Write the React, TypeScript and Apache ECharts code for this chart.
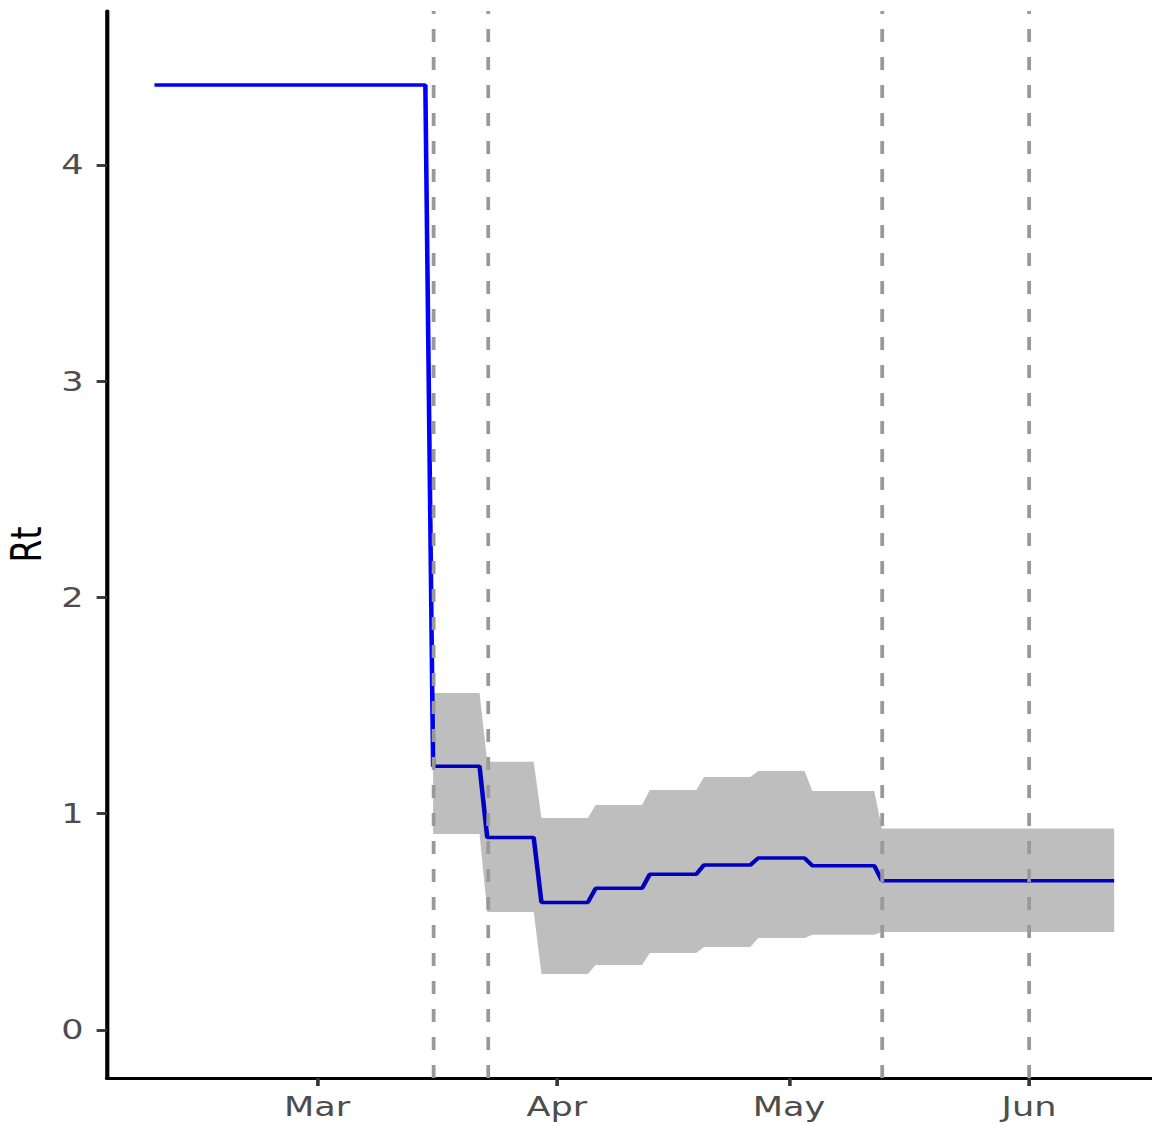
import { useEffect, useRef } from 'react';
import * as echarts from 'echarts';

// ---- data ----
const segStart = ['2020-02-09', '2020-03-16', '2020-03-23', '2020-03-30', '2020-04-06', '2020-04-13', '2020-04-20', '2020-04-27', '2020-05-04', '2020-05-13'];
const segEnd = ['2020-03-15', '2020-03-22', '2020-03-29', '2020-04-05', '2020-04-12', '2020-04-19', '2020-04-26', '2020-05-03', '2020-05-12', '2020-06-12'];
const rtMedian = [4.37, 1.22, 0.89, 0.59, 0.655, 0.72, 0.763, 0.795, 0.76, 0.69];
const rtLower = [null, 0.906, 0.546, 0.259, 0.3, 0.356, 0.384, 0.425, 0.44, 0.453];
const rtUpper = [null, 1.558, 1.24, 0.98, 1.04, 1.11, 1.17, 1.198, 1.105, 0.932];
const interventionDates = ['2020-03-16', '2020-03-23', '2020-05-13', '2020-06-01'];
const monthTicks = ['2020-03-01', '2020-04-01', '2020-05-01', '2020-06-01'];
const monthLabels = ['Mar', 'Apr', 'May', 'Jun'];
const yTicks = [0, 1, 2, 3, 4];

const DAY = 86400000;
const ts = (s: string) => Date.parse(s + 'T00:00:00Z');

// horizontal stretch of the reference picture
const OUT_W = 1152;
const IN_W = 886;
const SX = OUT_W / IN_W;

export default function App() {
  const ref = useRef<HTMLDivElement>(null);

  useEffect(() => {
    if (!ref.current) return;
    const chart = echarts.init(ref.current, undefined, { renderer: 'svg' });

    const linePoints: number[][] = [];
    segStart.forEach((s, i) => {
      linePoints.push([ts(s), rtMedian[i]]);
      linePoints.push([ts(segEnd[i]), rtMedian[i]]);
    });
    const ribbonPoints: number[][] = [];
    segStart.forEach((s, i) => {
      const lo = rtLower[i];
      const hi = rtUpper[i];
      if (lo == null || hi == null) return;
      ribbonPoints.push([ts(s), lo, hi]);
      ribbonPoints.push([ts(segEnd[i]), lo, hi]);
    });

    const mar1 = ts('2020-03-01');
    const xMin = mar1 - 27.135 * DAY;
    const xMax = mar1 + 107.89 * DAY;
    const font = 'DejaVu Sans';
    const xTickValues = monthTicks.map(ts);

    chart.setOption({
      animation: false,
      backgroundColor: '#ffffff',
      grid: {
        left: 107 / SX,
        right: 0,
        top: 11,
        bottom: 48,
        containLabel: false,
        outerBoundsMode: 'none',
      },
      xAxis: {
        type: 'value',
        min: xMin,
        max: xMax,
        scale: true,
        splitLine: { show: false },
        axisLine: { onZero: false, lineStyle: { color: '#000000', width: 3.2 } },
        axisTick: {
          show: true,
          length: 8,
          lineStyle: { color: '#333333', width: 2.8 },
          customValues: xTickValues,
        },
        axisLabel: {
          customValues: xTickValues,
          formatter: (v: number) => {
            const idx = xTickValues.indexOf(v);
            return idx >= 0 ? monthLabels[idx] : '';
          },
          color: '#4D4D4D',
          fontSize: 27,
          fontFamily: font,
          margin: 15,
        },
      },
      yAxis: {
        type: 'value',
        min: -0.222,
        max: 4.712,
        name: 'Rt',
        nameLocation: 'middle',
        nameRotate: 90,
        nameGap: 40,
        nameTextStyle: { color: '#000000', fontSize: 33, fontFamily: font },
        splitLine: { show: false },
        axisLine: { show: true, onZero: false, lineStyle: { color: '#000000', width: 3.2 } },
        axisTick: {
          show: true,
          length: 8,
          lineStyle: { color: '#333333', width: 2.8 },
          customValues: yTicks,
        },
        axisLabel: {
          customValues: yTicks,
          color: '#4D4D4D',
          fontSize: 27,
          fontFamily: font,
          margin: 18,
        },
      },
      series: [
        {
          type: 'line',
          z: 1,
          data: linePoints,
          showSymbol: false,
          symbol: 'none',
          silent: true,
          lineStyle: { color: '#0000FF', width: 3.5 },
        },
        {
          type: 'custom',
          z: 2,
          silent: true,
          data: ribbonPoints,
          encode: { x: 0, y: [1, 2] },
          renderItem: (params: any, api: any) => {
            if (params.dataIndex !== 0) return null;
            const upper = ribbonPoints.map((p) => api.coord([p[0], p[2]]));
            const lower = ribbonPoints.map((p) => api.coord([p[0], p[1]])).reverse();
            return {
              type: 'polygon',
              shape: { points: upper.concat(lower) },
              style: { fill: 'rgba(0,0,0,0.255)', stroke: 'none' },
            };
          },
        },
        {
          type: 'line',
          z: 3,
          data: [],
          silent: true,
          markLine: {
            silent: true,
            symbol: ['none', 'none'],
            label: { show: false },
            lineStyle: { color: '#999999', width: 2.9, type: [13, 15] },
            emphasis: { disabled: true },
            data: interventionDates.map((d) => ({ xAxis: ts(d) })),
          },
        },
      ],
    });

    return () => {
      chart.dispose();
    };
  }, []);

  return (
    <div
      style={{
        position: 'absolute',
        left: 0,
        top: 0,
        width: OUT_W,
        height: 1126,
        overflow: 'hidden',
        background: '#ffffff',
      }}
    >
      <div
        ref={ref}
        style={{
          width: IN_W,
          height: 1126,
          transform: `scaleX(${SX})`,
          transformOrigin: '0 0',
        }}
      />
    </div>
  );
}
